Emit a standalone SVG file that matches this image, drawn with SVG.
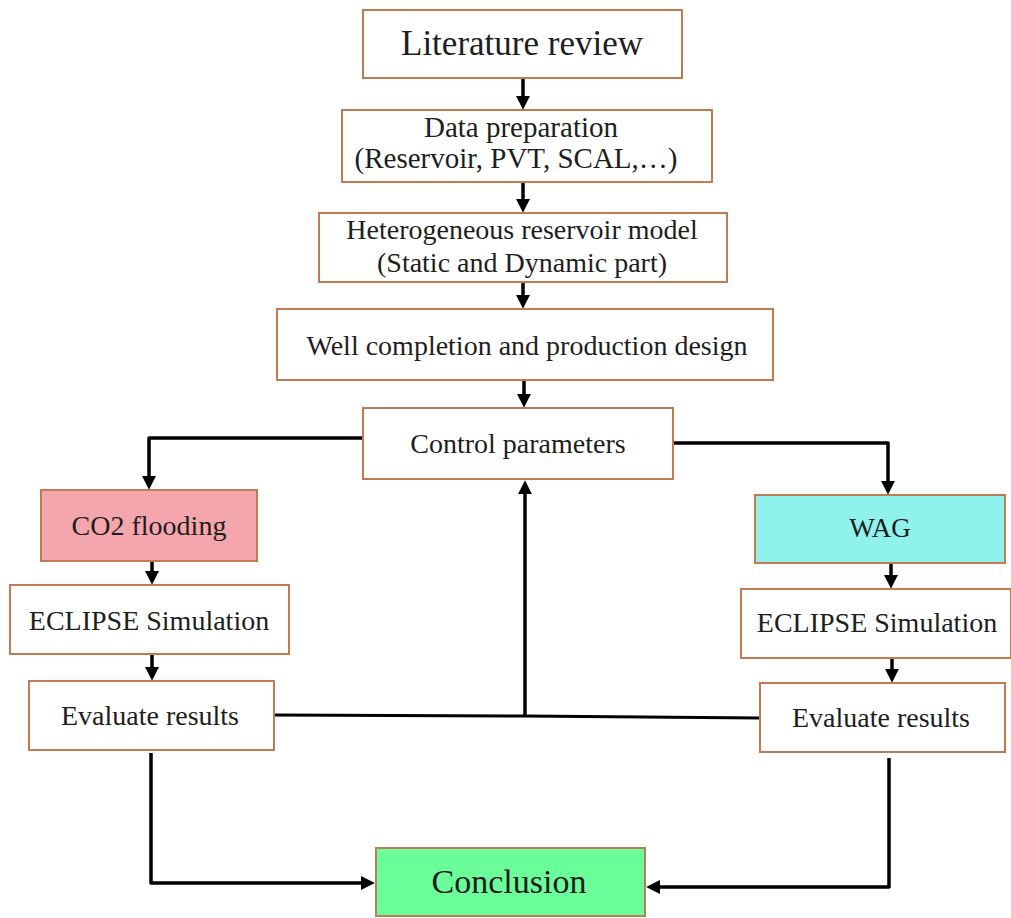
<svg xmlns="http://www.w3.org/2000/svg" width="1011" height="918" viewBox="0 0 1011 918">
<style>
.box{fill:#ffffff;stroke:#c27a52;stroke-width:2}
.t{font-family:"Liberation Serif","Times New Roman",serif;font-size:28px;fill:#1e1e1e;text-anchor:middle}
.c{fill:none;stroke:#000;stroke-width:3.5;stroke-linejoin:round}
.thin{fill:none;stroke:#000;stroke-width:3}
</style>
<defs>
<marker id="ah" viewBox="0 0 12 12" markerUnits="userSpaceOnUse" markerWidth="14" markerHeight="14" refX="7" refY="6" orient="auto">
<path d="M0,0 L12,6 L0,12 z" fill="#000"/>
</marker>
</defs>
<rect width="1011" height="918" fill="#ffffff"/>
<g id="connectors">
<path class="c" d="M523,78 V104" marker-end="url(#ah)"/>
<path class="c" d="M523,182 V207" marker-end="url(#ah)"/>
<path class="c" d="M523,282 V303" marker-end="url(#ah)"/>
<path class="c" d="M524,380 V402" marker-end="url(#ah)"/>
<path class="c" d="M363,438 H149 V484" marker-end="url(#ah)"/>
<path class="c" d="M673,443 H888 V489" marker-end="url(#ah)"/>
<path class="c" d="M152,561 V579" marker-end="url(#ah)"/>
<path class="c" d="M152,654 V675" marker-end="url(#ah)"/>
<path class="c" d="M891,563 V583" marker-end="url(#ah)"/>
<path class="c" d="M892,658 V677" marker-end="url(#ah)"/>
<path class="thin" d="M274,715 L525,716 L760,718"/>
<path class="c" d="M525,716 V486" stroke-width="4" marker-end="url(#ah)"/>
<path class="c" d="M151,753 V883 H369" stroke-width="4" marker-end="url(#ah)"/>
<path class="c" d="M889,758 V887 H652" stroke-width="4" marker-end="url(#ah)"/>
</g>
<g id="literature-review">
<rect class="box" x="363" y="10" width="319" height="68"/>
<text class="t" x="522" y="55" style="font-size:35px">Literature review</text>
</g>
<g id="data-preparation">
<rect class="box" x="342" y="110" width="370" height="72"/>
<text class="t" x="521" y="137" style="font-size:29px">Data preparation</text>
<text class="t" x="516" y="168" style="font-size:29px">(Reservoir, PVT, SCAL,…)</text>
</g>
<g id="heterogeneous-model">
<rect class="box" x="319" y="213" width="408" height="69"/>
<text class="t" x="522" y="239">Heterogeneous reservoir model</text>
<text class="t" x="522" y="272">(Static and Dynamic part)</text>
</g>
<g id="well-completion">
<rect class="box" x="277" y="309" width="496" height="71"/>
<text class="t" x="527" y="355">Well completion and production design</text>
</g>
<g id="control-parameters">
<rect class="box" x="363" y="408" width="310" height="71"/>
<text class="t" x="518" y="453">Control parameters</text>
</g>
<g id="co2-flooding">
<rect class="box" x="41" y="490" width="216" height="71" style="fill:#f4a6ac"/>
<text class="t" x="149" y="535">CO2 flooding</text>
</g>
<g id="eclipse-left">
<rect class="box" x="10" y="585" width="279" height="69"/>
<text class="t" x="149" y="630">ECLIPSE Simulation</text>
</g>
<g id="evaluate-left">
<rect class="box" x="29" y="681" width="245" height="69"/>
<text class="t" x="150" y="725">Evaluate results</text>
</g>
<g id="wag">
<rect class="box" x="755" y="495" width="250" height="68" style="fill:#8ff2ec"/>
<text class="t" x="880" y="537" style="font-size:27px">WAG</text>
</g>
<g id="eclipse-right">
<rect class="box" x="741" y="589" width="270" height="69"/>
<text class="t" x="877" y="632">ECLIPSE Simulation</text>
</g>
<g id="evaluate-right">
<rect class="box" x="760" y="683" width="245" height="69"/>
<text class="t" x="881" y="727">Evaluate results</text>
</g>
<g id="conclusion">
<rect class="box" x="376" y="848" width="269" height="68" style="fill:#6bfd9a"/>
<text class="t" x="509" y="893" style="font-size:34px">Conclusion</text>
</g>
</svg>
